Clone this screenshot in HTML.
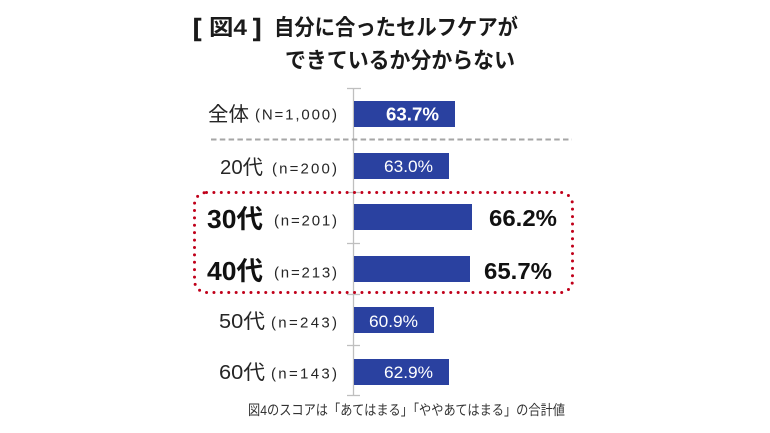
<!DOCTYPE html>
<html><head><meta charset="utf-8"><style>
html,body{margin:0;padding:0;background:#fff;}
svg{display:block;}
text{font-family:"Liberation Sans","Noto Sans CJK JP",sans-serif;}
</style></head><body>
<svg width="770" height="433" viewBox="0 0 770 433" xmlns="http://www.w3.org/2000/svg">
<rect width="770" height="433" fill="#fff"/>
<!-- Title -->
<g font-weight="bold" fill="#1a1a1a" font-size="22">
<text x="193" y="36" font-size="25" stroke="#1a1a1a" stroke-width="0.6">[</text>
<text x="209" y="35" textLength="38" lengthAdjust="spacingAndGlyphs">図4</text>
<text x="253" y="36" font-size="25" stroke="#1a1a1a" stroke-width="0.6">]</text>
<text x="274" y="35" textLength="244" lengthAdjust="spacingAndGlyphs">自分に合ったセルフケアが</text>
<text x="285" y="68" textLength="230" lengthAdjust="spacingAndGlyphs">できているか分からない</text>
</g>
<!-- axis -->
<g stroke="#bfbfbf" stroke-width="1.3">
<line x1="353.5" y1="88" x2="353.5" y2="396"/>
<line x1="347" y1="88.5" x2="361" y2="88.5"/>
<line x1="347" y1="243.5" x2="360" y2="243.5"/>
<line x1="347" y1="345.5" x2="360" y2="345.5"/>
<line x1="347" y1="395.5" x2="360" y2="395.5"/>
<line x1="347" y1="192.5" x2="360" y2="192.5"/>
<line x1="347" y1="294.5" x2="360" y2="294.5"/>
</g>
<!-- dashed separator -->
<line x1="211" y1="139.5" x2="572" y2="139.5" stroke="#a6a6a6" stroke-width="2" stroke-dasharray="5.5 3.3"/>
<!-- bars -->
<g fill="#2A41A0">
<rect x="354" y="101" width="101" height="26"/>
<rect x="354" y="153" width="95" height="26"/>
<rect x="354" y="204" width="118" height="26"/>
<rect x="354" y="256" width="116" height="26"/>
<rect x="354" y="307" width="80" height="26"/>
<rect x="354" y="359" width="95" height="26"/>
</g>
<!-- dotted highlight -->
<rect x="194.5" y="192.5" width="378" height="100" rx="12" ry="12" fill="none" stroke="#C0001A" stroke-width="3" stroke-linecap="round" stroke-dasharray="0 7.4"/>
<!-- category labels -->
<g fill="#262626">
<text x="208" y="121" font-size="20" textLength="41" lengthAdjust="spacingAndGlyphs">全体</text>
<text x="255" y="119.5" font-size="15" textLength="82" lengthAdjust="spacing">(N=1,000)</text>
<text x="220" y="174" font-size="20" textLength="43" lengthAdjust="spacingAndGlyphs">20代</text>
<text x="272" y="173.5" font-size="15" textLength="65" lengthAdjust="spacing">(n=200)</text>
<text x="274" y="225.5" font-size="15" textLength="63" lengthAdjust="spacing">(n=201)</text>
<text x="274" y="277.5" font-size="15" textLength="63" lengthAdjust="spacing">(n=213)</text>
<text x="219" y="328" font-size="20" textLength="46" lengthAdjust="spacingAndGlyphs">50代</text>
<text x="271" y="327.5" font-size="15" textLength="66" lengthAdjust="spacing">(n=243)</text>
<text x="219" y="379" font-size="20" textLength="46" lengthAdjust="spacingAndGlyphs">60代</text>
<text x="271" y="378.5" font-size="15" textLength="66" lengthAdjust="spacing">(n=143)</text>
</g>
<g fill="#111" font-weight="bold">
<text x="207" y="228" font-size="26" textLength="56" lengthAdjust="spacingAndGlyphs">30代</text>
<text x="207" y="280" font-size="26" textLength="56" lengthAdjust="spacingAndGlyphs">40代</text>
</g>
<!-- value labels -->
<text x="386" y="120.5" font-size="18" font-weight="bold" fill="#fff" textLength="53" lengthAdjust="spacingAndGlyphs">63.7%</text>
<text x="384" y="172" font-size="17" fill="#fff" textLength="49" lengthAdjust="spacingAndGlyphs">63.0%</text>
<text x="489" y="226" font-size="23" font-weight="bold" fill="#111" textLength="68" lengthAdjust="spacingAndGlyphs">66.2%</text>
<text x="484" y="279" font-size="23" font-weight="bold" fill="#111" textLength="68" lengthAdjust="spacingAndGlyphs">65.7%</text>
<text x="369" y="327" font-size="17" fill="#fff" textLength="49" lengthAdjust="spacingAndGlyphs">60.9%</text>
<text x="384" y="378" font-size="17" fill="#fff" textLength="49" lengthAdjust="spacingAndGlyphs">62.9%</text>
<!-- footer -->
<text x="248" y="415" font-size="14" fill="#333" textLength="317" lengthAdjust="spacingAndGlyphs">図4のスコアは「あてはまる」「ややあてはまる」の合計値</text>
</svg>
</body></html>
